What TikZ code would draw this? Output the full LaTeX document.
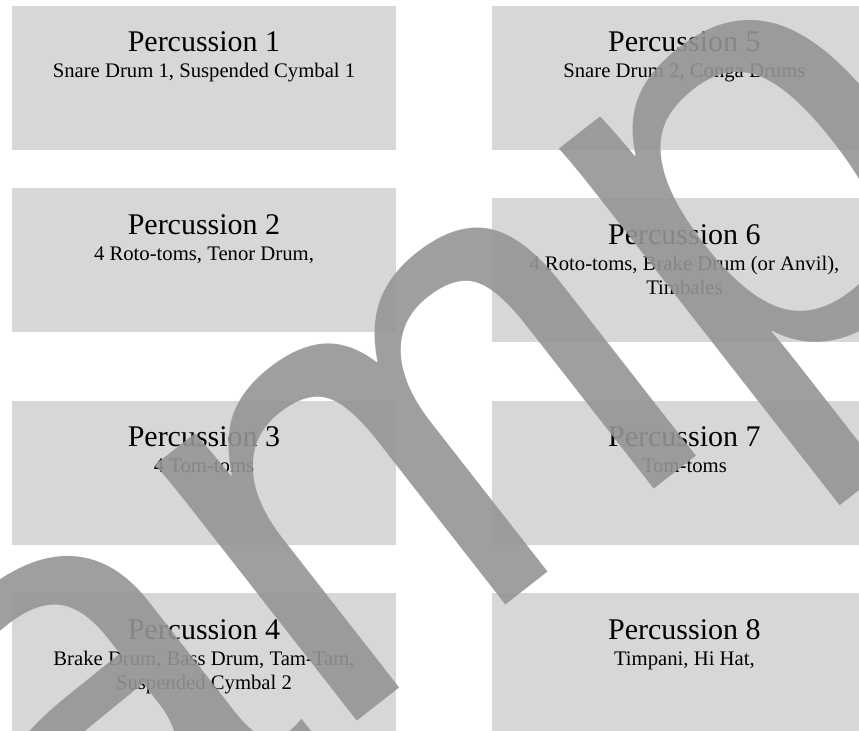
\documentclass[tikz,border=0pt]{standalone}
\usepackage{fontspec}
\setmainfont{Liberation Serif}
\newfontfamily\markfont{Liberation Sans}
\usepackage{tikz}
\usetikzlibrary{positioning}
\definecolor{boxgray}{HTML}{D7D7D7}
\definecolor{markgray}{HTML}{959595}
\tikzset{
  partbox/.style={fill=boxgray, minimum width=384bp, minimum height=144bp, inner sep=0pt},
  parttitle/.style={anchor=base, inner sep=0pt, font=\fontsize{30bp}{36bp}\selectfont},
  partinstr/.style={anchor=base, inner sep=0pt, align=center, font=\fontsize{20.7bp}{24bp}\selectfont},
  watermark/.style={anchor=base, inner sep=0pt, rotate=38, text=markgray, text opacity=0.9, font=\markfont\fontsize{617bp}{617bp}\selectfont}
}

\begin{document}
\begin{tikzpicture}[x=1bp, y=1bp]
  \useasboundingbox (0,0) rectangle (859,731);
  \clip (0,0) rectangle (859,731);

  \node[partbox] (p1) at (204,653) {};
  \node[partbox, below=38bp of p1] (p2) {};
  \node[partbox, below=68bp of p2] (p3) {};
  \node[partbox, below=48bp of p3] (p4) {};
  \node[partbox, right=96bp of p1] (p5) {};
  \node[partbox, below=48bp of p5] (p6) {};
  \node[partbox, below=58bp of p6] (p7) {};
  \node[partbox, below=48bp of p7] (p8) {};

  \node[parttitle] (t1) at ([yshift=-46bp]p1.north) {Percussion 1};
  \node[partinstr] (i1) at ([yshift=-72bp]p1.north) {Snare Drum 1, Suspended Cymbal 1};
  \node[parttitle] (t2) at ([yshift=-46bp]p2.north) {Percussion 2};
  \node[partinstr] (i2) at ([yshift=-72bp]p2.north) {4 Roto-toms, Tenor Drum,};
  \node[parttitle] (t3) at ([yshift=-46bp]p3.north) {Percussion 3};
  \node[partinstr] (i3) at ([yshift=-72bp]p3.north) {4 Tom-toms};
  \node[parttitle] (t4) at ([yshift=-46bp]p4.north) {Percussion 4};
  \node[partinstr] (i4) at ([yshift=-96bp]p4.north) {Brake Drum, Bass Drum, Tam-Tam,\\Suspended Cymbal 2};
  \node[parttitle] (t5) at ([yshift=-46bp]p5.north) {Percussion 5};
  \node[partinstr] (i5) at ([yshift=-72bp]p5.north) {Snare Drum 2, Conga Drums};
  \node[parttitle] (t6) at ([yshift=-46bp]p6.north) {Percussion 6};
  \node[partinstr] (i6) at ([yshift=-96bp]p6.north) {4 Roto-toms, Brake Drum (or Anvil),\\Timbales};
  \node[parttitle] (t7) at ([yshift=-46bp]p7.north) {Percussion 7};
  \node[partinstr] (i7) at ([yshift=-72bp]p7.north) {Tom-toms};
  \node[parttitle] (t8) at ([yshift=-46bp]p8.north) {Percussion 8};
  \node[partinstr] (i8) at ([yshift=-72bp]p8.north) {Timpani, Hi Hat,};

  \node[watermark] (wm) at (553,163) {Sample};
\end{tikzpicture}
\end{document}
